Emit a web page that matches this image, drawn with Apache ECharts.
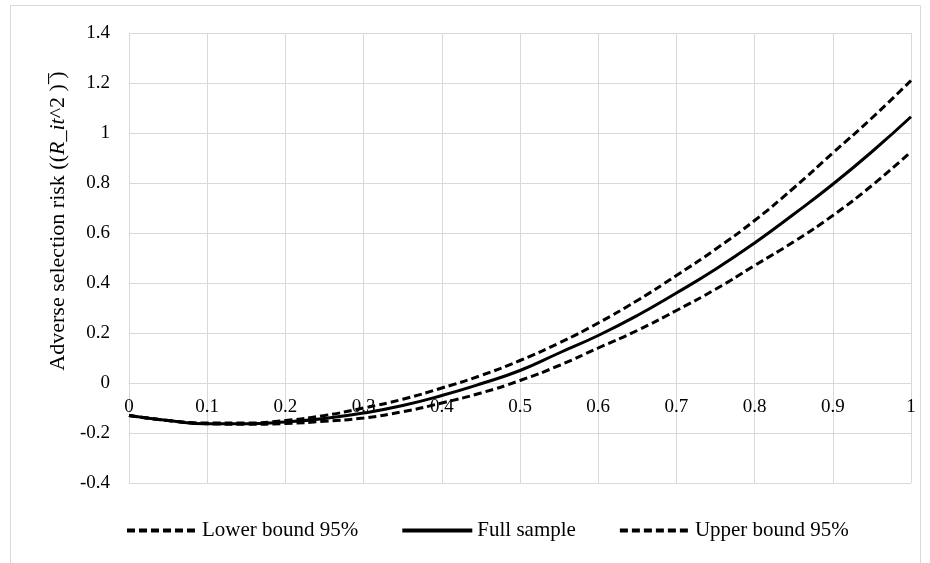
<!DOCTYPE html>
<html>
<head>
<meta charset="utf-8">
<script src="https://cdn.jsdelivr.net/npm/echarts@6/dist/echarts.min.js"></script>
<style>
  html, body { margin: 0; padding: 0; background: #fff; }
  #chart { width: 930px; height: 563px; }
</style>
</head>
<body>
<div id="chart"></div>
<script>
// x values, read at every 0.05
const xValues = [0, 0.05, 0.1, 0.15, 0.2, 0.25, 0.3, 0.35, 0.4, 0.45, 0.5,
  0.55, 0.6, 0.65, 0.7, 0.75, 0.8, 0.85, 0.9, 0.95, 1];

const lowerBound = [-0.13, -0.15, -0.163, -0.165, -0.162, -0.153, -0.14, -0.115, -0.08, -0.04, 0.01,
  0.07, 0.14, 0.21, 0.29, 0.375, 0.47, 0.565, 0.67, 0.79, 0.925];

const fullSample = [-0.13, -0.15, -0.163, -0.163, -0.156, -0.142, -0.12, -0.09, -0.05, -0.003, 0.05,
  0.12, 0.19, 0.27, 0.36, 0.455, 0.56, 0.675, 0.795, 0.925, 1.065];

const upperBound = [-0.13, -0.15, -0.16, -0.16, -0.15, -0.13, -0.10, -0.065, -0.02, 0.03, 0.09,
  0.16, 0.24, 0.33, 0.43, 0.535, 0.65, 0.78, 0.92, 1.06, 1.21];

const seriesNames = ['Lower bound 95%', 'Full sample', 'Upper bound 95%'];

const font = 'Liberation Serif, Times New Roman, serif';
const pair = ys => xValues.map((x, i) => [x, ys[i]]);

const chart = echarts.init(document.getElementById('chart'));

const lineSeries = (name, ys, dashed) => ({
  name,
  type: 'line',
  data: pair(ys),
  smooth: true,
  showSymbol: false,
  symbol: 'none',
  lineStyle: { color: '#000', width: 3, type: dashed ? [8, 4] : 'solid' },
  itemStyle: { color: '#000' },
});

const option = {
  animation: false,
  backgroundColor: '#fff',
  textStyle: { fontFamily: font },
  grid: { left: 129, right: 19, top: 33, bottom: 80, containLabel: false },
  // 外框 + y軸標題
  graphic: [
    {
      type: 'rect',
      shape: { x: 10.5, y: 5.5, width: 910, height: 570 },
      style: { fill: 'none', stroke: '#d9d9d9', lineWidth: 1 },
      silent: true,
    },
    {
      type: 'text',
      x: 58,
      y: 221,
      rotation: Math.PI / 2,
      style: {
        text: '{n|Adverse selection risk ((}{i|R}{n|_}{i|it}{n|^2 ) \u0305)}',
        align: 'center',
        verticalAlign: 'middle',
        rich: {
          n: { fontFamily: font, fontSize: 22, fill: '#000' },
          i: { fontFamily: font, fontSize: 22, fontStyle: 'italic', fill: '#000' },
        },
      },
    },
  ],
  legend: {
    data: seriesNames,
    left: 120,
    top: 515,
    itemWidth: 70,
    itemHeight: 14,
    itemGap: 42,
    itemStyle: { opacity: 0 },
    lineStyle: { width: 4 },
    textStyle: { fontFamily: font, fontSize: 21, color: '#000' },
  },
  xAxis: {
    type: 'value',
    min: 0,
    max: 1,
    interval: 0.1,
    position: 'bottom',
    offset: -100,
    axisLine: { onZero: false, lineStyle: { color: '#d9d9d9', width: 1 } },
    axisTick: { show: false },
    axisLabel: { color: '#000', fontFamily: font, fontSize: 19, margin: 15 },
    splitLine: { show: true, lineStyle: { color: '#d9d9d9', width: 1 } },
  },
  yAxis: {
    type: 'value',
    min: -0.4,
    max: 1.4,
    interval: 0.2,
    axisLine: { show: false },
    axisTick: { show: false },
    axisLabel: { color: '#000', fontFamily: font, fontSize: 19, margin: 19 },
    splitLine: { show: true, lineStyle: { color: '#d9d9d9', width: 1 } },
  },
  series: [
    lineSeries(seriesNames[0], lowerBound, true),
    lineSeries(seriesNames[1], fullSample, false),
    lineSeries(seriesNames[2], upperBound, true),
  ],
};

chart.setOption(option);
</script>
</body>
</html>
